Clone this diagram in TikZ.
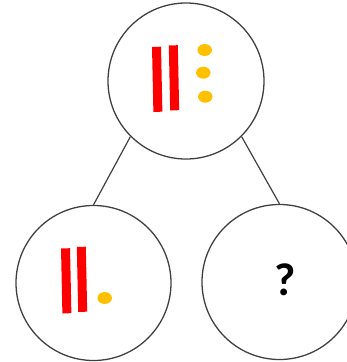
\documentclass[tikz,border=0pt]{standalone}
\usepackage{fontspec}
\newfontfamily\pitanjefont{Carlito}
\usetikzlibrary{positioning,shapes.geometric}
\definecolor{stapicred}{HTML}{FF0000}
\definecolor{tockagold}{HTML}{FFC000}
\tikzset{
  krug/.style={circle,draw=black!75,line width=1.3pt,minimum size=155pt,inner sep=0pt},
  stapic/.style={rectangle,fill=stapicred,minimum width=9pt,minimum height=65pt,inner sep=0pt,rotate=1.2},
  tocka/.style={ellipse,fill=tockagold,minimum width=14.5pt,minimum height=12pt,inner sep=0pt},
  grana/.style={draw=black!75,line width=1.2pt},
}

\begin{document}
\begin{tikzpicture}[x=1pt,y=-1pt]
\useasboundingbox (0,0) rectangle (347,362);
% krugovi
\node[krug,minimum size=156pt] (vrh) at (186,81) {};
\node[krug] (lijevo) at (93.5,283) {};
\node[krug] (desno) at (279.5,282) {};
\draw[grana] (vrh.south west) -- (lijevo.north);
\draw[grana] (vrh.south east) -- (desno.north);
% gornji krug
\node[stapic] (v1) at (157.2,79.3) {};
\node[stapic] (v2) at (174,77.8) {};
\node[tocka] (t1) at (204.7,50) {};
\node[tocka] (t2) at (203.3,72.7) {};
\node[tocka] (t3) at (205.3,96.7) {};
% lijevi krug
\node[stapic] (l1) at (66.2,280.8) {};
\node[stapic] (l2) at (82,279.3) {};
\node[tocka] (t4) at (104.7,298) {};
% desni krug
\node[font=\pitanjefont\bfseries\fontsize{46}{46}\selectfont] (upit) at (285.5,280) {?};
\end{tikzpicture}
\end{document}
